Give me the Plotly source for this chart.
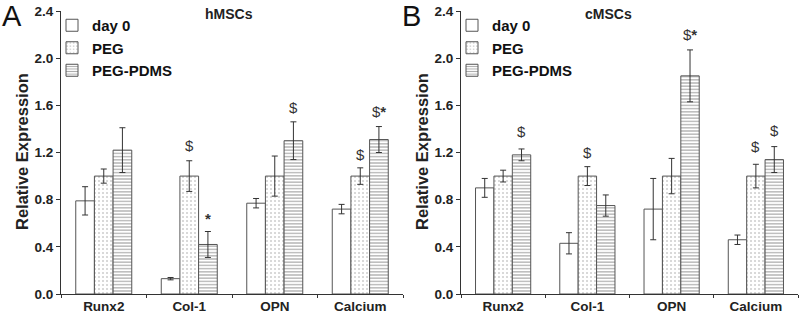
import plotly.graph_objects as go

categories = ["Runx2", "Col-1", "OPN", "Calcium"]
series_names = ["day 0", "PEG", "PEG-PDMS"]

h_day0 = [0.79, 0.13, 0.77, 0.72]
h_day0_err = [0.12, 0.01, 0.04, 0.04]
h_peg = [1.00, 1.00, 1.00, 1.00]
h_peg_err = [0.06, 0.13, 0.17, 0.07]
h_pdms = [1.22, 0.42, 1.30, 1.31]
h_pdms_err = [0.19, 0.11, 0.16, 0.11]

c_day0 = [0.90, 0.43, 0.72, 0.46]
c_day0_err = [0.08, 0.09, 0.26, 0.04]
c_peg = [1.00, 1.00, 1.00, 1.00]
c_peg_err = [0.05, 0.08, 0.15, 0.10]
c_pdms = [1.18, 0.75, 1.85, 1.14]
c_pdms_err = [0.05, 0.09, 0.22, 0.11]

y_ticks = [0.0, 0.4, 0.8, 1.2, 1.6, 2.0, 2.4]

# significance marks: (panel, category, series index, text, y value)
marks = [
    ("h", "Col-1", 1, "$", 1.26),
    ("h", "Col-1", 2, "<b>*</b>", 0.64),
    ("h", "OPN", 2, "$", 1.58),
    ("h", "Calcium", 1, "$", 1.18),
    ("h", "Calcium", 2, "$<b>*</b>", 1.55),
    ("c", "Runx2", 2, "$", 1.38),
    ("c", "Col-1", 1, "$", 1.20),
    ("c", "OPN", 2, "$<b>*</b>", 2.20),
    ("c", "Calcium", 1, "$", 1.25),
    ("c", "Calcium", 2, "$", 1.39),
]

W, H = 800, 317
ML, MR, MT, MB = 61, 2, 11, 23
PW = W - ML - MR
PH = H - MT - MB

def px_x(p):
    return (p - ML) / PW

def px_y(p):
    return (H - MB - p) / PH

EDGE = "#555555"
ERR = "#333333"

def marker_for(i):
    if i == 0:
        return dict(color="white", line=dict(color=EDGE, width=1))
    if i == 1:
        return dict(color="white", line=dict(color=EDGE, width=1),
                    pattern=dict(shape=".", fgcolor="#9a9a9a", bgcolor="white",
                                 size=4, solidity=0.2))
    return dict(color="white", line=dict(color=EDGE, width=1),
                pattern=dict(shape="-", fgcolor="#555555", bgcolor="white",
                             size=3.2, solidity=0.38))

fig = go.Figure()

panels = [
    ("x", "y", "legend", [h_day0, h_peg, h_pdms], [h_day0_err, h_peg_err, h_pdms_err]),
    ("x2", "y2", "legend2", [c_day0, c_peg, c_pdms], [c_day0_err, c_peg_err, c_pdms_err]),
]
for xa, ya, lg, vals, errs in panels:
    for i, name in enumerate(series_names):
        fig.add_trace(go.Bar(
            x=categories, y=vals[i], name=name, xaxis=xa, yaxis=ya, legend=lg,
            marker=marker_for(i),
            error_y=dict(type="data", array=errs[i], color=ERR, thickness=1, width=3),
        ))

left_dom = [0, px_x(403)]
right_dom = [px_x(461), px_x(798)]

line_common = dict(showline=True, linecolor="#333333", linewidth=1,
                   ticks="outside", tickcolor="#333333",
                   showgrid=False, zeroline=False)
tickfont = dict(family="Arial", size=13.5, color="#222222", weight="bold")
legfont = dict(family="Arial", size=15, color="#111111", weight="bold")

fig.update_layout(
    width=W, height=H,
    margin=dict(l=ML, r=MR, t=MT, b=MB, autoexpand=False),
    plot_bgcolor="white", paper_bgcolor="white",
    barmode="group", bargap=0.345, bargroupgap=0,
    font=dict(family="Arial", color="#222222"),
    xaxis=dict(domain=left_dom, anchor="y", tickson="boundaries", ticklen=3,
               tickfont=tickfont, **line_common),
    xaxis2=dict(domain=right_dom, anchor="y2", tickson="boundaries", ticklen=3,
                tickfont=tickfont, **line_common),
    yaxis=dict(domain=[0, 1], anchor="x", range=[0, 2.4], tickvals=y_ticks, ticklen=4,
               tickformat=".1f", tickfont=tickfont, **line_common),
    yaxis2=dict(domain=[0, 1], anchor="x2", range=[0, 2.4], tickvals=y_ticks, ticklen=4,
                tickformat=".1f", tickfont=tickfont, **line_common),
    legend=dict(x=px_x(52), y=px_y(9), xanchor="left", yanchor="top",
                bgcolor="rgba(0,0,0,0)", tracegroupgap=0, itemwidth=30, font=legfont),
    legend2=dict(x=px_x(452), y=px_y(9), xanchor="left", yanchor="top",
                 bgcolor="rgba(0,0,0,0)", tracegroupgap=0, itemwidth=30, font=legfont),
)

ann = []
# panel letters
ann.append(dict(text="A", x=px_x(0), y=px_y(16), xref="paper", yref="paper",
                xanchor="left", yanchor="middle", showarrow=False,
                font=dict(family="Arial", size=29, color="#111111")))
ann.append(dict(text="B", x=px_x(400), y=px_y(16), xref="paper", yref="paper",
                xanchor="left", yanchor="middle", showarrow=False,
                font=dict(family="Arial", size=29, color="#111111")))
# panel titles
ann.append(dict(text="hMSCs", x=px_x(229), y=px_y(14), xref="paper", yref="paper",
                xanchor="center", yanchor="middle", showarrow=False,
                font=dict(family="Arial", size=14, color="#222222", weight="bold")))
ann.append(dict(text="cMSCs", x=px_x(608), y=px_y(14), xref="paper", yref="paper",
                xanchor="center", yanchor="middle", showarrow=False,
                font=dict(family="Arial", size=14, color="#222222", weight="bold")))
# y titles
for xp in (22, 422):
    ann.append(dict(text="Relative Expression", x=px_x(xp), y=px_y(152),
                    xref="paper", yref="paper", textangle=-90, showarrow=False,
                    xanchor="center", yanchor="middle",
                    font=dict(family="Arial", size=16.5, color="#222222", weight="bold")))
# significance marks
bar_w = 85.5 * (1 - 0.345) / 3
for panel, cat, si, txt, yv in marks:
    xa, ya = ("x", "y") if panel == "h" else ("x2", "y2")
    ann.append(dict(text=txt, x=cat, y=yv, xref=xa, yref=ya, showarrow=False,
                    xanchor="center", yanchor="middle",
                    xshift=(si - 1) * bar_w,
                    font=dict(family="Arial", size=15, color="#333333")))
fig.update_layout(annotations=ann)

fig.write_html("out.html", config={"displayModeBar": False},
               post_script="document.body.style.margin='0px';document.body.style.overflow='hidden';")
